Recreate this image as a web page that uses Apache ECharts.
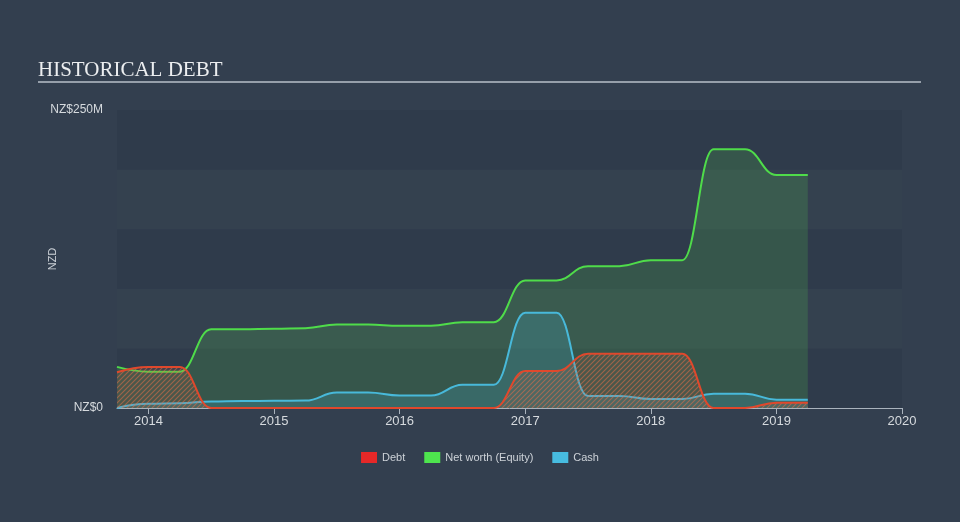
<!DOCTYPE html>
<html>
<head>
<meta charset="utf-8">
<script src="https://cdn.jsdelivr.net/npm/echarts@6/dist/echarts.min.js"></script>
<style>
html,body{margin:0;padding:0;background:#333f4f;}
#c{width:960px;height:522px;}
</style>
</head>
<body>
<div id="c"></div>
<script>
var periods = [2013.75, 2014, 2014.25, 2014.5, 2014.75, 2015, 2015.25, 2015.5, 2015.75, 2016, 2016.25, 2016.5, 2016.75, 2017, 2017.25, 2017.5, 2017.75, 2018, 2018.25, 2018.5, 2018.75, 2019, 2019.25];
var netWorth = [34.5, 30.5, 30.5, 66, 66, 66.5, 67, 70, 70, 69, 69, 72, 72, 107, 107, 119, 119, 124, 124, 217, 217, 195.5, 195.5];
var debt = [30, 34.5, 34.5, 0, 0, 0, 0, 0, 0, 0, 0, 0, 0, 31, 31, 45.5, 45.5, 45.5, 45.5, 0, 0, 4.5, 4.5];
var cash = [0, 3.5, 4, 5.5, 5.8, 6, 6.2, 13, 13, 10.5, 10.5, 19.5, 19.5, 80, 80, 10, 10, 7.5, 7.5, 12, 12, 7, 7];
var yearTicks = [2014, 2015, 2016, 2017, 2018, 2019, 2020];
var seriesNames = ['Debt', 'Net worth (Equity)', 'Cash'];

function pairs(vals) { return periods.map(function (p, i) { return [p, vals[i]]; }); }

var pc = document.createElement('canvas');
pc.width = 5; pc.height = 5;
var g = pc.getContext('2d');
g.fillStyle = 'rgba(190,100,75,0.22)';
g.fillRect(0, 0, 5, 5);
g.strokeStyle = 'rgba(235,110,75,0.8)';
g.lineWidth = 1.1;
g.beginPath();
g.moveTo(0, 5); g.lineTo(5, 0);
g.moveTo(-2.5, 2.5); g.lineTo(2.5, -2.5);
g.moveTo(2.5, 7.5); g.lineTo(7.5, 2.5);
g.stroke();

var chart = echarts.init(document.getElementById('c'));
chart.setOption({
  backgroundColor: '#333f4f',
  animation: false,
  title: {
    text: 'HISTORICAL DEBT', left: 33, top: 55,
    textStyle: { fontFamily: 'Liberation Serif', fontWeight: 'normal', fontSize: 21, color: '#eceef0' }
  },
  graphic: [{
    type: 'line', shape: { x1: 38, y1: 82, x2: 921, y2: 82 },
    style: { stroke: '#b9c1c9', lineWidth: 1.5 }
  }],
  legend: {
    bottom: 54, left: 'center', itemWidth: 16, itemHeight: 11, itemGap: 19,
    icon: 'rect',
    textStyle: { color: '#cdd2d8', fontSize: 11, fontFamily: 'Liberation Sans' },
    data: seriesNames
  },
  grid: { left: 117, right: 58, top: 110, bottom: 114 },
  xAxis: {
    type: 'value', min: 2013.75, max: 2020,
    axisLine: { show: true, lineStyle: { color: '#aab3bd', width: 1 } },
    axisTick: { show: true, customValues: yearTicks, length: 6, lineStyle: { color: '#aab3bd' } },
    axisLabel: { customValues: yearTicks, color: '#d6dade', fontSize: 13, fontFamily: 'Liberation Sans', margin: 7, formatter: function (v) { return String(Math.round(v)); } },
    splitLine: { show: false }
  },
  yAxis: {
    type: 'value', min: 0, max: 250, interval: 50,
    name: 'NZD', nameLocation: 'middle', nameGap: 59, nameRotate: 90, nameMoveOverlap: false,
    nameTextStyle: { color: '#cdd2d8', fontSize: 11, fontFamily: 'Liberation Sans' },
    axisLine: { show: false }, axisTick: { show: false },
    axisLabel: {
      color: '#d6dade', fontSize: 12, fontFamily: 'Liberation Sans', margin: 14,
      formatter: function (v) { return v === 0 ? 'NZ$0' : (v === 250 ? 'NZ$250M' : ''); }
    },
    splitLine: { show: false },
    splitArea: { show: true, areaStyle: { color: ['#2f3b4b', '#34414f'] } }
  },
  series: [
    {
      name: 'Net worth (Equity)', type: 'line', data: pairs(netWorth), smooth: 0.45, smoothMonotone: 'x',
      showSymbol: false, symbol: 'none', z: 2,
      itemStyle: { color: '#4ee44e' },
      lineStyle: { color: '#4fdc4a', width: 2 },
      areaStyle: { color: 'rgba(88,214,80,0.25)' }
    },
    {
      name: 'Cash', type: 'line', data: pairs(cash), smooth: 0.45, smoothMonotone: 'x',
      showSymbol: false, symbol: 'none', z: 3,
      itemStyle: { color: '#47bce0' },
      lineStyle: { color: '#48b9da', width: 2 },
      areaStyle: { color: 'rgba(70,185,218,0.28)' }
    },
    {
      name: 'Debt', type: 'line', data: pairs(debt), smooth: 0.45, smoothMonotone: 'x',
      showSymbol: false, symbol: 'none', z: 4,
      itemStyle: { color: '#e62828' },
      lineStyle: { color: '#e0482c', width: 2 },
      areaStyle: { color: { image: pc, repeat: 'repeat' } }
    }
  ]
});
</script>
</body>
</html>
